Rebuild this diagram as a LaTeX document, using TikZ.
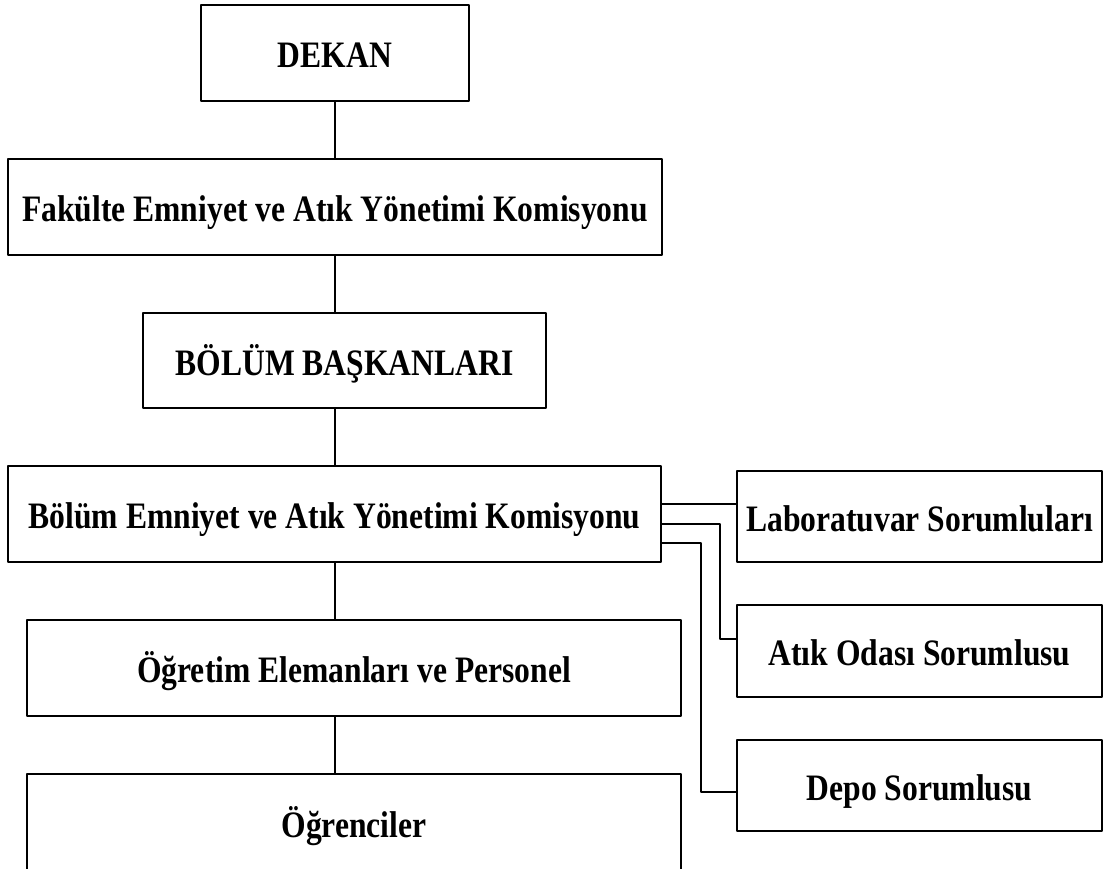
\documentclass[tikz,border=0pt]{standalone}
\usepackage{fontspec}
\setmainfont{Liberation Serif}
\newfontfamily\orgfont[FakeStretch=0.847]{Liberation Serif}
\usepackage{tikz}
\usetikzlibrary{calc, positioning}

\begin{document}
\begin{tikzpicture}[line join=bevel, x=1pt, y=-1pt, line width=1.5pt,
        orgbox/.style={draw, rectangle, inner sep=0pt, text height=36pt, text depth=7pt,
                font=\orgfont\bfseries\fontsize{37.3}{44}\selectfont},
        mainbox/.style={orgbox, minimum width=654pt, minimum height=96pt},
        sidebox/.style={orgbox, minimum width=365pt, minimum height=91pt}]
        \useasboundingbox (0,0) rectangle (1104,869);
        \node[orgbox, minimum width=268pt, minimum height=96pt] (dekan) at (335,53) {DEKAN};
        \node[mainbox] (fakulte) at (335,207) {Fakülte Emniyet ve Atık Yönetimi Komisyonu};
        \node[orgbox, minimum width=403pt, minimum height=95pt] (baskan) at (344.5,360.5) {BÖLÜM BAŞKANLARI};
        \node[mainbox, minimum width=653pt] (bolum) at (334.5,514) {Bölüm Emniyet ve Atık Yönetimi Komisyonu};
        \node[mainbox] (ogretim) at (354,668) {Öğretim Elemanları ve Personel};
        \node[mainbox, minimum height=97pt] (ogrenci) at (354,822.5) {Öğrenciler};
        \node[sidebox] (lab) at (919.5,516.5) {Laboratuvar Sorumluları};
        \node[sidebox, minimum height=92pt] (atik) at (919.5,651) {Atık Odası Sorumlusu};
        \node[sidebox] (depo) at (919.5,785.5) {Depo Sorumlusu};

        \draw (dekan.south) -- (dekan.south |- fakulte.north);
        \draw (fakulte.south) -- (fakulte.south |- baskan.north);
        \draw (fakulte.south |- baskan.south) -- (fakulte.south |- bolum.north);
        \draw (fakulte.south |- bolum.south) -- (fakulte.south |- ogretim.north);
        \draw (fakulte.south |- ogretim.south) -- (fakulte.south |- ogrenci.north);

        \draw ([yshift=10pt]bolum.east) coordinate (b1) -- (b1 -| lab.west);
        \draw ([yshift=-10pt]bolum.east) -- ++(58pt,0) |- ([yshift=12pt]atik.west);
        \draw ([yshift=-29pt]bolum.east) -- ++(39pt,0) |- ([yshift=-6.5pt]depo.west);
\end{tikzpicture}
\end{document}
